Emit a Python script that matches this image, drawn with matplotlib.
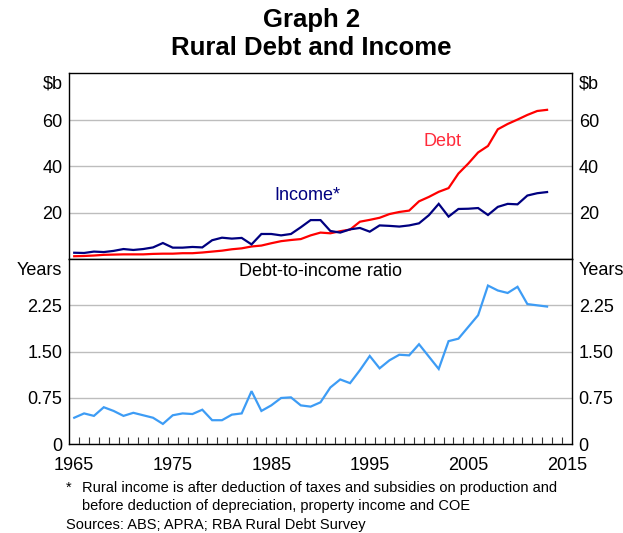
import matplotlib
matplotlib.use("Agg")
import matplotlib.pyplot as plt
import numpy as np

years = list(range(1965, 2014))
income = [2.7, 2.6, 3.2, 3.0, 3.5, 4.3, 3.9, 4.3, 5.0, 6.9,
          4.9, 4.9, 5.2, 5.0, 8.1, 9.2, 8.8, 9.1, 6.3, 10.8,
          10.8, 10.2, 10.8, 13.7, 16.8, 16.8, 12.1, 11.4, 12.8, 13.4,
          11.8, 14.5, 14.3, 14.0, 14.5, 15.4, 18.9, 23.8, 18.3, 21.6,
          21.7, 22.0, 19.0, 22.5, 23.8, 23.6, 27.4, 28.4, 28.9]
debt = [1.2, 1.3, 1.5, 1.8, 1.9, 2.0, 2.0, 2.0, 2.2, 2.3,
        2.3, 2.5, 2.5, 2.8, 3.2, 3.6, 4.2, 4.6, 5.4, 5.8,
        6.8, 7.7, 8.2, 8.6, 10.2, 11.4, 11.1, 12.0, 12.7, 16.1,
        16.9, 17.8, 19.4, 20.3, 20.9, 24.9, 26.8, 29.0, 30.6, 36.9,
        41.2, 46.0, 48.8, 56.0, 58.3, 60.2, 62.2, 63.9, 64.4]
ratio = [0.43, 0.50, 0.46, 0.60, 0.54, 0.46, 0.51, 0.47, 0.43, 0.33,
         0.47, 0.50, 0.49, 0.56, 0.39, 0.39, 0.48, 0.50, 0.86, 0.54,
         0.63, 0.75, 0.76, 0.63, 0.61, 0.68, 0.92, 1.05, 0.99, 1.20,
         1.43, 1.23, 1.36, 1.45, 1.44, 1.62, 1.42, 1.22, 1.67, 1.71,
         1.90, 2.09, 2.57, 2.49, 2.45, 2.55, 2.27, 2.25, 2.23]

top_ticks = [20, 40, 60]
top_ticklabels = ["20", "40", "60"]
bot_ticks = [0, 0.75, 1.5, 2.25]
bot_ticklabels = ["0", "0.75", "1.50", "2.25"]
x_ticks = [1965, 1975, 1985, 1995, 2005, 2015]

plt.rcParams['font.family'] = ['Liberation Sans', 'DejaVu Sans']

W, H = 623, 533
fig = plt.figure(figsize=(W / 100, H / 100), dpi=100)

left = 69.3 / W
width = 502.4 / W
ax1 = fig.add_axes([left, 1 - 259 / H, width, 186 / H])
ax2 = fig.add_axes([left, 1 - 444.3 / H, width, 185.3 / H])

grid_c = "#bdbdbd"
fs = 13

for ax in (ax1, ax2):
    ax.set_xlim(1964.5, 2015.5)
    for s in ax.spines.values():
        s.set_color("black")
        s.set_linewidth(1.0)
    ax.tick_params(axis='y', length=0, labelleft=True, labelright=True,
                   labelsize=fs, pad=5)
    ax.set_axisbelow(True)

# top panel
ax1.set_ylim(0, 80.3)
ax1.set_yticks(top_ticks)
ax1.set_yticklabels(top_ticklabels)
ax1.grid(axis='y', color=grid_c, linewidth=1.0)
ax1.set_xticks([])
ax1.plot(years, debt, color="#ff0000", linewidth=1.6, solid_joinstyle='miter')
ax1.plot(years, income, color="#000080", linewidth=1.6, solid_joinstyle='miter')
ax1.text(2002.4, 50.6, "Debt", color="#ff2a3a", fontsize=fs, ha='center', va='center')
ax1.text(1988.7, 27.3, "Income*", color="#000080", fontsize=fs, ha='center', va='center')

# bottom panel
ax2.set_ylim(0, 3.0)
ax2.set_yticks(bot_ticks)
ax2.set_yticklabels(bot_ticklabels)
ax2.grid(axis='y', color=grid_c, linewidth=1.0)
ax2.plot(years, ratio, color="#3d9cf5", linewidth=1.6, solid_joinstyle='miter')
ax2.text(0.5, 0.935, "Debt-to-income ratio", transform=ax2.transAxes,
         fontsize=13, ha='center', va='center', color='black')
ax2.set_xticks(x_ticks)
ax2.set_xticklabels([str(y) for y in x_ticks])
ax2.set_xticks(np.arange(1965.5, 2015, 1.0), minor=True)
ax2.tick_params(axis='x', which='major', length=0, labelsize=fs, pad=9.5)
ax2.tick_params(axis='x', which='minor', direction='in', length=5, width=0.8,
                color='#333333')

# unit labels
for ax, lab, yy in ((ax1, "\\$b", 0.941), (ax2, "Years", 0.94)):
    ax.annotate(lab, xy=(0, yy), xycoords='axes fraction', xytext=(-5, 0),
                textcoords='offset points', ha='right', va='center', fontsize=fs)
    ax.annotate(lab, xy=(1, yy), xycoords='axes fraction', xytext=(5, 0),
                textcoords='offset points', ha='left', va='center', fontsize=fs)

# titles
fig.text(0.5, 1 - 20 / H, "Graph 2", ha='center', va='center',
         fontsize=18.5, fontweight='bold')
fig.text(0.5, 1 - 48 / H, "Rural Debt and Income", ha='center', va='center',
         fontsize=18.5, fontweight='bold')

# footnotes
fn = 10.5
fig.text(66 / W, 1 - 488 / H, "*", ha='left', va='center', fontsize=fn)
fig.text(82 / W, 1 - 488 / H,
         "Rural income is after deduction of taxes and subsidies on production and",
         ha='left', va='center', fontsize=fn)
fig.text(82 / W, 1 - 506 / H,
         "before deduction of depreciation, property income and COE",
         ha='left', va='center', fontsize=fn)
fig.text(66 / W, 1 - 525 / H, "Sources: ABS; APRA; RBA Rural Debt Survey",
         ha='left', va='center', fontsize=fn)

fig.savefig("out.png", dpi=100)
